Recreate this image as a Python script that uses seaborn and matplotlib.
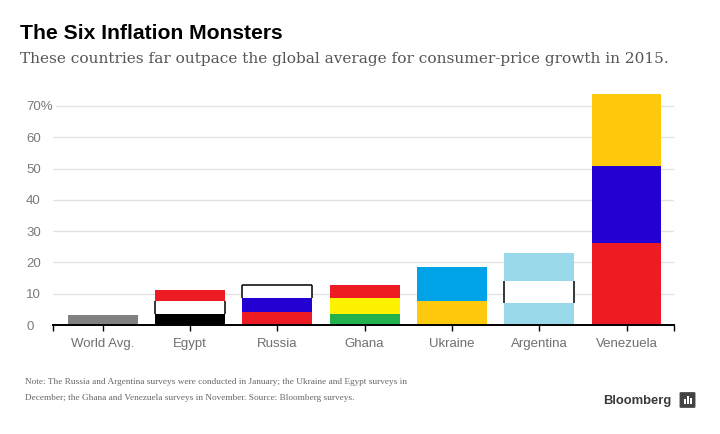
import numpy as np
import matplotlib
matplotlib.use("Agg")
import matplotlib.pyplot as plt
import seaborn as sns
from matplotlib.patches import FancyBboxPatch, Rectangle

# Inflation, 2015, split into flag stripes (bottom, middle, top)
countries = ["World Avg.", "Egypt", "Russia", "Ghana", "Ukraine", "Argentina", "Venezuela"]
bottom_seg = [3.2, 3.4, 4.2, 3.5, 7.7, 7.1, 26.3]
middle_seg = [0.0, 4.4, 4.3, 5.0, 0.0, 7.0, 24.5]
top_seg = [0.0, 3.4, 4.2, 4.3, 10.8, 8.9, 23.0]

yticks = [0, 10, 20, 30, 40, 50, 60, 70]
ytick_labels = ["0", "10", "20", "30", "40", "50", "60", "70%"]

GRAY = "#818181"
RED = "#ed1c24"
BLACK = "#000000"
WHITE = "white"
BLUE = "#2400d2"
YELLOW = "#ffc90e"
GH_YELLOW = "#fff200"
GREEN = "#22b14c"
UA_BLUE = "#00a2e8"
AR_BLUE = "#99d9ea"

bottom_colors = [GRAY, BLACK, RED, GREEN, YELLOW, AR_BLUE, RED]
middle_colors = ["none", WHITE, BLUE, GH_YELLOW, "none", WHITE, BLUE]
top_colors = ["none", RED, WHITE, RED, UA_BLUE, AR_BLUE, YELLOW]

sns.set_theme(style="white")
plt.rcParams["font.family"] = ["Liberation Sans", "DejaVu Sans"]

W, H = 720, 434
fig = plt.figure(figsize=(7.2, 4.34), dpi=100)
ax = fig.add_axes([53 / W, 1 - 325 / H, 621 / W, (325 - 90.3) / H])

base = np.zeros(len(countries))
white_bars = []
for values, colors in [(bottom_seg, bottom_colors), (middle_seg, middle_colors), (top_seg, top_colors)]:
    sns.barplot(x=countries, y=values, bottom=base, order=countries, width=0.8,
                color=GRAY, saturation=1, errorbar=None, linewidth=0, ax=ax, zorder=2)
    for patch, c in zip(ax.containers[-1], colors):
        patch.set_facecolor(c)
        if c == WHITE:
            white_bars.append(patch)
    base = base + np.array(values)

# white stripes get a thin black outline on the sides (and on top when they end the bar)
totals = base
for patch in white_bars:
    x0, y0 = patch.get_x(), patch.get_y()
    x1, y1 = x0 + patch.get_width(), y0 + patch.get_height()
    ax.vlines([x0, x1], y0, y1, color="black", linewidth=1.1, zorder=3)
    if np.isclose(y1, totals).any():
        ax.hlines(y1, x0, x1, color="black", linewidth=1.1, zorder=3)

ax.set_xlim(-0.569, 6.544)
ax.set_ylim(0, 75)
ax.set_xlabel("")
ax.set_ylabel("")

ax.set_yticks(yticks)
ax.set_yticklabels(ytick_labels, ha="left")
ax.tick_params(axis="y", length=0, pad=19.4, labelsize=9.5, labelcolor="#7a7a7a")
for lbl in ax.get_yticklabels():
    lbl.set_bbox(dict(facecolor="white", edgecolor="none", pad=2.5))
ax.yaxis.grid(True, color="#e2e2e2", linewidth=1, zorder=0)
ax.set_axisbelow(True)

ax.set_xticks(range(len(countries)))
ax.set_xticklabels(countries)
ax.set_xticks([-0.569, 6.544], minor=True)
ax.tick_params(axis="x", which="both", direction="out", length=4.5, width=1,
               color="black", bottom=True)
ax.tick_params(axis="x", which="major", pad=5, labelsize=9.5, labelcolor="#6f6f6f")

sns.despine(ax=ax, left=True)
ax.spines["bottom"].set_color("black")
ax.spines["bottom"].set_linewidth(1.4)

fig.text(20 / W, 1 - 39.3 / H, "The Six Inflation Monsters", fontsize=15.2,
         fontweight="bold", color="black", va="baseline", ha="left")
fig.text(20 / W, 1 - 63.3 / H,
         "These countries far outpace the global average for consumer-price growth in 2015.",
         fontsize=11.05, family="DejaVu Serif", color="#555555", va="baseline", ha="left")

fig.text(25 / W, 1 - 384.5 / H,
         "Note: The Russia and Argentina surveys were conducted in January; the Ukraine and Egypt surveys in",
         fontsize=6.65, family="Liberation Serif", color="#666666", va="baseline", ha="left")
fig.text(25 / W, 1 - 399.5 / H,
         "December; the Ghana and Venezuela surveys in November. Source: Bloomberg surveys.",
         fontsize=6.65, family="Liberation Serif", color="#666666", va="baseline", ha="left")

fig.text(603 / W, 1 - 404 / H, "Bloomberg", fontsize=9.4, fontweight="bold",
         color="#3a3a3a", va="baseline", ha="left")

# small Bloomberg mark
icon = FancyBboxPatch((681 / W, 1 - 407 / H), 13 / W, 14 / H,
                      boxstyle="round,pad=0.002", transform=fig.transFigure,
                      facecolor="#444444", edgecolor="none")
fig.patches.append(icon)
for bx, bh in [(684, 5), (687, 8), (690, 6)]:
    fig.patches.append(Rectangle((bx / W, 1 - 404 / H), 1.6 / W, bh / H,
                                 transform=fig.transFigure, facecolor="white",
                                 edgecolor="none"))

fig.savefig("out.png", dpi=100)
